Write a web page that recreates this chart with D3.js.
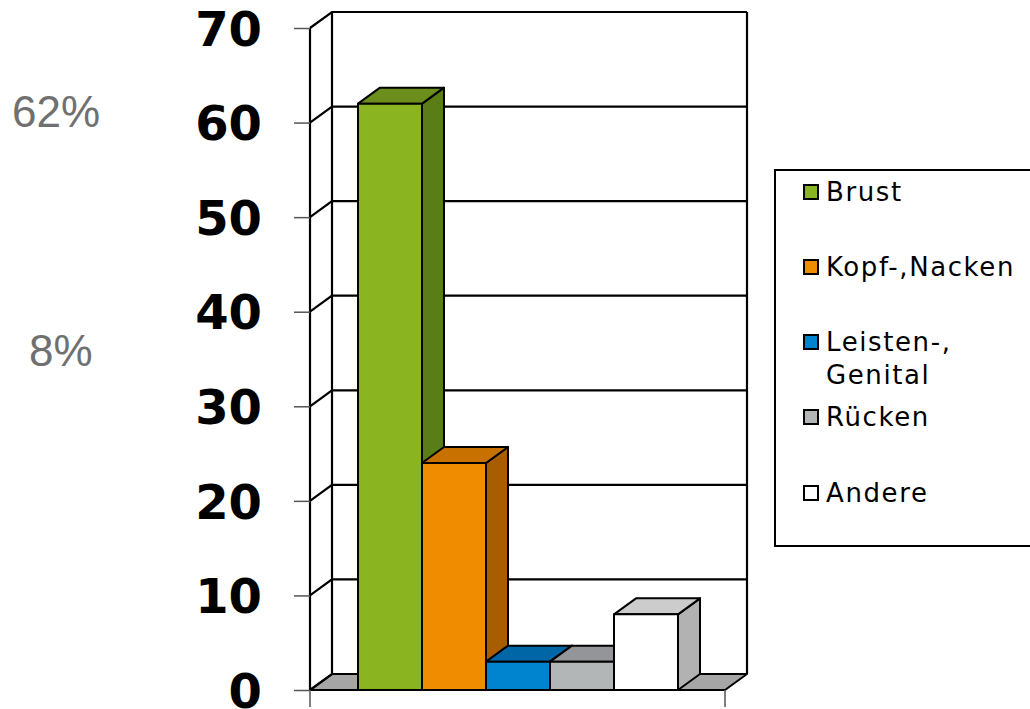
<!DOCTYPE html>
<html><head><meta charset="utf-8">
<script src="https://cdn.jsdelivr.net/npm/d3@7"></script>
<style>html,body{margin:0;padding:0;background:#fff;overflow:hidden}</style>
</head><body>
<script>
const series = ["Brust", "Kopf-,Nacken", "Leisten-, Genital", "Rücken", "Andere"];
const values = [62, 24, 3, 3, 8];
const legendLines = [["Brust"], ["Kopf-,Nacken"], ["Leisten-,", "Genital"], ["Rücken"], ["Andere"]];
const tickValues = [0, 10, 20, 30, 40, 50, 60, 70];
const sideNotes = ["62%", "8%"];
const frontColors = ["#8ab521", "#f08c00", "#0084cf", "#b3b6b7", "#ffffff"];
const topColors = ["#6b8e1c", "#c87000", "#0066a6", "#939598", "#cccccc"];
const sideColors = ["#5a7d17", "#a85d00", "#005a94", "#7d7f82", "#b2b2b2"];

const W = 1030, H = 709;
const svg = d3.select("body").append("svg").attr("width", W).attr("height", H);

const DX = 22, DY = -16;
const x0 = 310, x1 = 725;
const y = d3.scaleLinear().domain([0, 70]).range([690, 28]);
const x = d3.scaleBand().domain(series).range([358, 678]).padding(0);

// side wall and back wall
svg.append("polygon")
  .attr("points", [[x0, y(0)], [x0 + DX, y(0) + DY], [x0 + DX, y(70) + DY], [x0, y(70)]].join(" "))
  .attr("fill", "#fff");
svg.append("rect").attr("x", x0 + DX).attr("y", y(70) + DY).attr("width", x1 - x0).attr("height", y(0) - y(70)).attr("fill", "#fff");

// floor
svg.append("polygon")
  .attr("points", [[x0, y(0)], [x0 + DX, y(0) + DY], [x1 + DX, y(0) + DY], [x1, y(0)]].join(" "))
  .attr("fill", "#a6a6a6").attr("stroke", "#000").attr("stroke-width", 2).attr("stroke-linejoin", "round");

// gridlines
const g = svg.append("g").attr("stroke", "#000").attr("stroke-width", 2.2).attr("fill", "none");
tickValues.forEach(v => {
  g.append("path").attr("d", `M${x0},${y(v)}L${x0 + DX},${y(v) + DY}L${x1 + DX},${y(v) + DY}`);
});
// wall frame
g.append("path").attr("d", `M${x0 + DX},${y(0) + DY}V${y(70) + DY}`);
g.append("path").attr("d", `M${x1 + DX},${y(0) + DY}V${y(70) + DY}`);
g.append("path").attr("d", `M${x0},${y(0)}V${y(70)}`);

// bars
const bars = svg.append("g").attr("stroke", "#000").attr("stroke-width", 2).attr("stroke-linejoin", "round");
series.forEach((s, i) => {
  const xl = x(s), xr = x(s) + x.bandwidth();
  const yt = y(values[i]), yb = y(0);
  bars.append("polygon")
    .attr("points", [[xr, yb], [xr + DX, yb + DY], [xr + DX, yt + DY], [xr, yt]].join(" "))
    .attr("fill", sideColors[i]);
  bars.append("polygon")
    .attr("points", [[xl, yt], [xl + DX, yt + DY], [xr + DX, yt + DY], [xr, yt]].join(" "))
    .attr("fill", topColors[i]);
  bars.append("rect").attr("x", xl).attr("y", yt).attr("width", xr - xl).attr("height", yb - yt)
    .attr("fill", frontColors[i]);
});

// front baseline and bottom ticks
svg.append("path").attr("d", `M${x0},${y(0)}H${x1}`).attr("stroke", "#000").attr("stroke-width", 2);
svg.append("path").attr("d", `M${x0},${y(0)}V707M${x1},${y(0)}V707`).attr("stroke", "#555").attr("stroke-width", 1.5);

// y axis
const axis = svg.append("g").attr("transform", `translate(${x0},0)`)
  .call(d3.axisLeft(y).tickValues(tickValues).tickSize(16).tickPadding(32).tickFormat(d3.format("d")));
axis.select(".domain").remove();
axis.selectAll(".tick line").attr("stroke", "#555").attr("stroke-width", 1.5);
axis.selectAll(".tick text")
  .attr("font-family", "'DejaVu Sans', Verdana, sans-serif")
  .attr("font-weight", "bold").attr("font-size", 48).attr("fill", "#000").attr("dy", "0.36em");

// legend
const leg = svg.append("g");
leg.append("rect").attr("x", 775).attr("y", 170).attr("width", 270).attr("height", 376)
  .attr("fill", "#fff").attr("stroke", "#000").attr("stroke-width", 2);
const legY = [192, 267, 342, 417, 493];
series.forEach((s, i) => {
  leg.append("rect").attr("x", 804).attr("y", legY[i] - 7).attr("width", 14).attr("height", 14)
    .attr("fill", frontColors[i]).attr("stroke", "#000").attr("stroke-width", 2);
  legendLines[i].forEach((line, j) => {
    leg.append("text").attr("x", 826).attr("y", legY[i] + j * 33).attr("dy", "0.36em")
      .attr("font-family", "'DejaVu Sans', Verdana, sans-serif").attr("font-size", 26)
      .attr("letter-spacing", 1.6).attr("fill", "#000")
      .text(line);
  });
});

// side percentage notes
svg.append("text").attr("x", 12).attr("y", 127).text(sideNotes[0])
  .attr("font-family", "'Liberation Sans', Arial, sans-serif").attr("font-size", 44).attr("fill", "#707070");
svg.append("text").attr("x", 29).attr("y", 366).text(sideNotes[1])
  .attr("font-family", "'Liberation Sans', Arial, sans-serif").attr("font-size", 44).attr("fill", "#707070");
</script>
</body></html>
